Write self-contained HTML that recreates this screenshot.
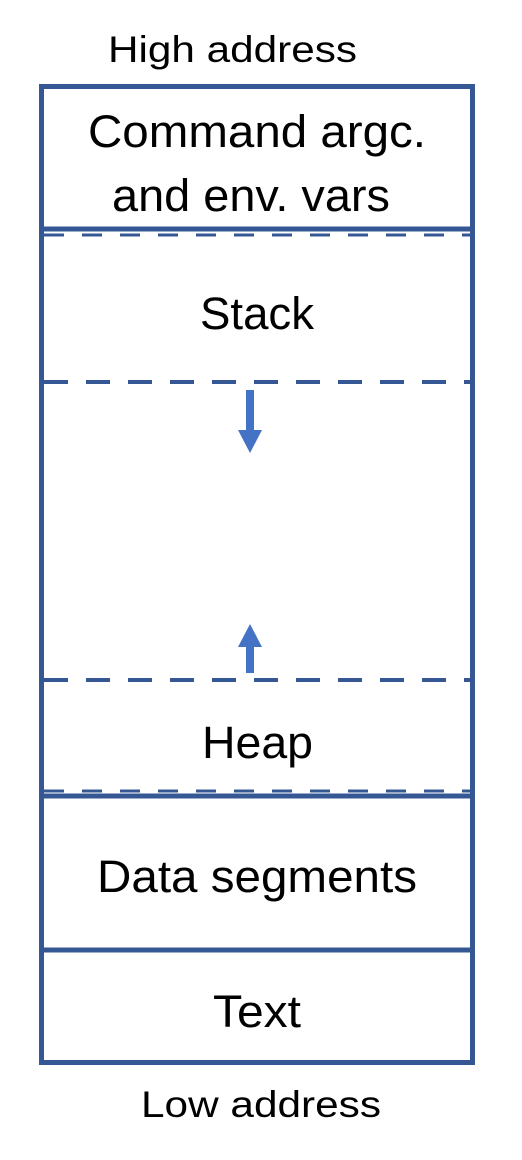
<!DOCTYPE html>
<html><head><meta charset="utf-8"><style>
html,body{margin:0;padding:0;background:#fff;}
svg{display:block;}
text{font-family:"Liberation Sans",sans-serif;fill:#000;}
</style></head><body>
<svg width="522" height="1160" viewBox="0 0 522 1160" xmlns="http://www.w3.org/2000/svg">
<text x="108" y="62" font-size="37" textLength="249" lengthAdjust="spacingAndGlyphs">High address</text>
<rect x="41.5" y="86.5" width="431" height="976" fill="none" stroke="#355895" stroke-width="5"/>
<line x1="41" y1="229" x2="473" y2="229" stroke="#355895" stroke-width="5"/>
<line x1="44" y1="235" x2="470" y2="235" stroke="#355895" stroke-width="3" stroke-dasharray="20,18"/>
<line x1="44" y1="382" x2="470" y2="382" stroke="#355895" stroke-width="4" stroke-dasharray="24,18"/>
<line x1="44" y1="680" x2="470" y2="680" stroke="#355895" stroke-width="4" stroke-dasharray="24,18"/>
<line x1="44" y1="791" x2="470" y2="791" stroke="#355895" stroke-width="3" stroke-dasharray="20,18"/>
<line x1="41" y1="796" x2="473" y2="796" stroke="#355895" stroke-width="5"/>
<line x1="41" y1="950" x2="473" y2="950" stroke="#355895" stroke-width="5"/>
<rect x="246" y="390" width="8" height="42" fill="#4472c4"/>
<polygon points="238,430 262,430 250,453" fill="#4472c4"/>
<rect x="246" y="645" width="8" height="28" fill="#4472c4"/>
<polygon points="238,647 262,647 250,624" fill="#4472c4"/>
<text x="88" y="147" font-size="45" textLength="338" lengthAdjust="spacingAndGlyphs">Command argc.</text>
<text x="112" y="211" font-size="45" textLength="278" lengthAdjust="spacingAndGlyphs">and env. vars</text>
<text x="200" y="329" font-size="45" textLength="114" lengthAdjust="spacingAndGlyphs">Stack</text>
<text x="202" y="758" font-size="45" textLength="111" lengthAdjust="spacingAndGlyphs">Heap</text>
<text x="97" y="892" font-size="45" textLength="320" lengthAdjust="spacingAndGlyphs">Data segments</text>
<text x="213" y="1027" font-size="45" textLength="88" lengthAdjust="spacingAndGlyphs">Text</text>
<text x="141" y="1117" font-size="37" textLength="240" lengthAdjust="spacingAndGlyphs">Low address</text>
</svg>
</body></html>
